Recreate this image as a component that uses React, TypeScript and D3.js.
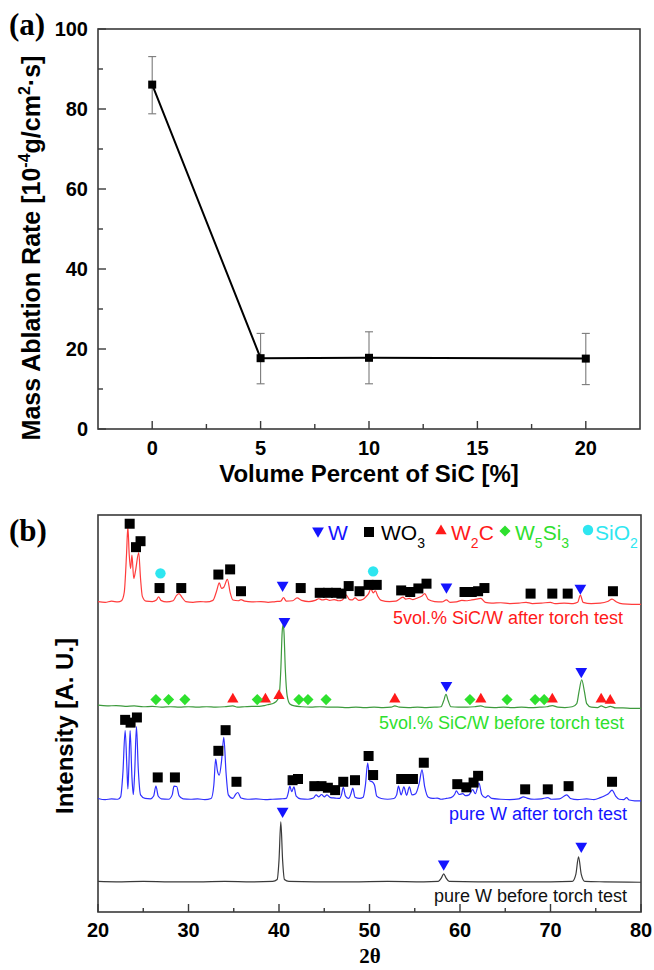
import React from "react";
import * as d3 from "d3";

// ---- panel (a): ablation rate vs SiC content ----
const sicPercent = [0, 5, 10, 20];
const ablationRate = [86.1, 17.7, 17.8, 17.6];
const rateLow = [78.8, 11.3, 11.3, 11.1];
const rateHigh = [93.1, 23.9, 24.3, 23.9];
const rateTicksX = [0, 5, 10, 15, 20];
const rateMinorX = [2.5, 7.5, 12.5, 17.5];
const rateTicksY = [0, 20, 40, 60, 80, 100];
const rateMinorY = [10, 30, 50, 70, 90];

// ---- panel (b): XRD patterns (2theta, intensity in A.U.) ----
const sicAfter: [number, number][] = [
  [20, 78.2], [20.8, 78.0], [21.5, 78.3], [22.2, 78.1], [22.6, 78.4], [22.9, 80.5], [23.15, 90], [23.3, 97.0],
  [23.45, 90], [23.6, 86.5], [23.75, 89.9], [23.95, 84], [24.15, 86], [24.5, 90.5], [24.7, 84], [24.9, 79.5],
  [25.3, 78.3], [26.0, 78.2], [26.45, 78.6], [26.7, 79.4], [26.95, 78.5], [27.6, 78.1], [28.3, 78.4], [28.7, 79.8],
  [28.95, 80.2], [29.3, 79.2], [29.7, 78.2], [30.5, 78.0], [31.3, 78.2], [32.0, 78.1], [32.7, 78.5], [33.1, 80.8],
  [33.4, 82.9], [33.65, 81.5], [33.9, 81.8], [34.3, 83.8], [34.6, 80.5], [34.9, 78.6], [35.5, 78.4], [35.8, 78.7],
  [36.2, 78.3], [37, 78.1], [38, 78.2], [38.8, 78.0], [39.6, 78.2], [40.2, 78.3], [40.5, 79.2], [40.8, 78.3],
  [41.5, 78.4], [42.0, 79.1], [42.5, 78.5], [43.3, 78.2], [44.0, 78.5], [44.4, 78.9], [44.8, 78.6], [45.2, 78.8],
  [45.6, 78.5], [46.1, 78.7], [46.6, 78.4], [47.0, 78.6], [47.4, 79.9], [47.8, 78.7], [48.1, 78.6], [48.4, 79.1],
  [48.8, 78.5], [49.3, 78.8], [49.6, 79.4], [49.9, 80.2], [50.15, 81.4], [50.4, 80.4], [50.65, 80.9], [50.9, 79.6],
  [51.3, 78.5], [52.2, 78.2], [52.9, 78.3], [53.3, 78.8], [53.7, 79.3], [54.0, 78.8], [54.4, 79.0], [54.8, 78.7],
  [55.3, 79.1], [55.8, 79.6], [56.1, 80.2], [56.5, 78.7], [57.2, 78.2], [58.0, 78.1], [58.5, 78.6], [58.9, 78.0],
  [59.6, 78.1], [60.2, 78.5], [60.8, 78.4], [61.3, 78.6], [61.8, 78.8], [62.3, 79.0], [62.8, 78.0], [63.5, 77.8],
  [64.5, 77.9], [65.5, 77.7], [66.5, 77.8], [67.3, 78.0], [68.0, 77.7], [69.0, 77.8], [70.0, 78.0], [70.5, 77.7],
  [71.5, 77.8], [72.5, 77.7], [73.0, 78.0], [73.3, 79.8], [73.6, 78.0], [74.5, 77.7], [75.5, 77.8], [76.3, 78.2],
  [76.8, 78.8], [77.3, 78.1], [78.0, 77.6], [79.0, 77.5], [80, 77.5],
];
const sicBefore: [number, number][] = [
  [20, 52.1], [21, 51.9], [22, 52.0], [23, 51.8], [24, 51.9], [25, 51.7], [26, 51.8], [27, 51.6], [28, 51.7],
  [29, 51.6], [30, 51.7], [31, 51.6], [32, 51.7], [33, 51.6], [34, 51.7], [34.9, 51.9], [35.4, 51.6], [36.2, 51.7],
  [37, 51.8], [37.8, 51.8], [38.4, 52.0], [38.9, 52.3], [39.4, 52.6], [39.75, 53.2], [40.0, 54.3], [40.2, 61],
  [40.35, 70.5], [40.45, 72.3], [40.55, 70.5], [40.7, 61], [40.9, 54.5], [41.2, 52.4], [41.7, 51.9], [42.5, 51.7],
  [43.5, 51.6], [44.5, 51.7], [45.5, 51.6], [46.5, 51.6], [47.5, 51.5], [48.5, 51.6], [49.5, 51.5], [50.5, 51.6],
  [51.5, 51.5], [52.4, 51.6], [52.8, 51.9], [53.3, 51.6], [54.3, 51.5], [55.3, 51.6], [56.3, 51.5], [57.3, 51.6],
  [57.9, 51.7], [58.2, 53.2], [58.45, 54.8], [58.7, 53.2], [59.0, 51.7], [59.8, 51.6], [60.8, 51.6], [61.6, 51.7],
  [62.3, 51.9], [62.8, 51.6], [63.8, 51.5], [64.8, 51.6], [65.8, 51.5], [66.8, 51.6], [67.8, 51.5], [68.8, 51.6],
  [69.6, 51.7], [70.2, 52.0], [70.8, 51.6], [71.6, 51.5], [72.4, 51.7], [72.9, 52.5], [73.15, 55.5], [73.45, 58.5],
  [73.75, 55.5], [74.0, 52.5], [74.5, 51.6], [75.2, 51.5], [75.6, 51.9], [76.1, 51.5], [76.6, 51.8], [77.2, 51.4],
  [78, 51.4], [79, 51.3], [80, 51.3],
];
const pureAfter: [number, number][] = [
  [20, 28.6], [20.8, 28.3], [21.5, 28.5], [22.2, 28.4], [22.5, 29.0], [22.75, 35], [23.0, 45.7], [23.2, 36],
  [23.3, 31.0], [23.4, 36], [23.55, 45.7], [23.75, 34], [23.9, 29.6], [24.05, 35], [24.25, 46.7], [24.45, 36],
  [24.7, 29.5], [25.2, 28.6], [25.8, 28.5], [26.15, 29.2], [26.4, 31.7], [26.65, 29.2], [27.0, 28.5], [27.8, 28.4],
  [28.2, 29.5], [28.4, 31.7], [28.7, 31.6], [28.95, 29.3], [29.4, 28.5], [30.2, 28.4], [31.0, 28.5], [31.8, 28.3],
  [32.5, 28.6], [32.8, 32.0], [33.0, 38.5], [33.2, 35.5], [33.4, 34.5], [33.65, 38], [33.9, 44.0], [34.15, 35],
  [34.4, 29.5], [34.9, 28.6], [35.2, 29.6], [35.45, 30.1], [35.8, 28.7], [36.5, 28.4], [37.5, 28.5], [38.5, 28.3],
  [39.3, 28.4], [40.2, 28.5], [40.8, 28.6], [41.0, 29.8], [41.2, 31.7], [41.4, 30.3], [41.65, 31.5], [41.9, 29.2],
  [42.4, 28.5], [43.2, 28.4], [43.8, 28.7], [44.1, 29.5], [44.4, 29.0], [44.7, 29.6], [45.0, 29.0], [45.3, 29.5],
  [45.7, 28.8], [46.2, 28.7], [46.7, 28.6], [46.9, 29.5], [47.1, 31.4], [47.35, 29.2], [47.7, 28.6], [47.95, 29.8],
  [48.15, 31.2], [48.4, 28.9], [48.9, 28.6], [49.3, 28.9], [49.55, 32], [49.8, 37.5], [50.05, 33], [50.3, 32.8],
  [50.55, 32.0], [50.8, 29.2], [51.3, 28.6], [52.0, 28.4], [52.7, 28.6], [53.0, 29.5], [53.2, 31.7], [53.5, 29.5],
  [53.8, 31.5], [54.1, 29.4], [54.4, 31.5], [54.7, 29.5], [55.1, 29.8], [55.5, 32.5], [55.8, 35.8], [56.1, 31.5],
  [56.5, 28.9], [57.0, 28.6], [57.5, 28.7], [57.9, 28.4], [58.5, 28.6], [59.0, 28.8], [59.4, 29.6], [59.6, 30.5],
  [59.9, 29.6], [60.3, 29.8], [60.6, 29.3], [61.0, 29.5], [61.4, 30.8], [61.7, 29.8], [62.1, 32.5], [62.4, 29.6],
  [62.8, 28.8], [63.1, 29.3], [63.5, 28.6], [64.5, 28.4], [65.5, 28.3], [66.5, 28.5], [67.0, 29.0], [67.4, 28.7],
  [68.2, 28.4], [69.0, 28.5], [69.7, 28.8], [70.1, 28.4], [71.0, 28.5], [71.8, 29.5], [72.2, 28.6], [73.0, 28.3],
  [74.0, 28.5], [74.8, 28.3], [75.5, 28.8], [76.0, 29.3], [76.4, 29.8], [76.8, 30.7], [77.2, 29.2], [77.6, 28.4],
  [78.1, 28.3], [78.4, 28.8], [78.7, 28.2], [79.3, 28.0], [80, 28.0],
];
const pureBefore: [number, number][] = [
  [20, 7.7], [22, 7.6], [25, 7.7], [28, 7.6], [31, 7.6], [34, 7.7], [37, 7.6], [39.3, 7.7], [39.8, 8.2], [40.0, 13],
  [40.2, 22.7], [40.4, 13], [40.6, 8.2], [41.1, 7.7], [44, 7.6], [48, 7.6], [52, 7.7], [56, 7.6], [57.6, 7.7],
  [57.95, 8.6], [58.2, 9.6], [58.45, 8.6], [58.8, 7.7], [62, 7.6], [66, 7.6], [70, 7.6], [72.4, 7.7], [72.8, 9.5],
  [73.1, 13.9], [73.4, 9.5], [73.8, 7.7], [76, 7.6], [80, 7.5],
];

// phase markers (2theta, marker height)
const wMarks: [number, number][] = [
  [40.4, 82.3], [58.5, 81.9], [73.3, 81.6],
  [40.6, 73.2], [58.5, 57.1], [73.4, 60.6],
  [40.4, 25.4], [58.2, 12.1], [73.4, 16.6],
];
const wo3Marks: [number, number][] = [
  [23.5, 97.8], [24.2, 91.9], [24.7, 93.4], [26.8, 81.6], [29.2, 81.6], [33.3, 85.0], [34.6, 86.3], [35.8, 80.8],
  [42.4, 81.6], [44.5, 80.4], [45.4, 80.4], [46.3, 80.4], [46.9, 80.2], [47.7, 82.1], [48.9, 80.8], [49.9, 82.4],
  [50.8, 82.4], [53.5, 81.0], [54.5, 80.6], [55.4, 81.5], [56.3, 82.7], [60.5, 80.6], [61.3, 80.6], [62.0, 80.8],
  [62.7, 81.6], [67.8, 80.2], [70.2, 80.2], [71.9, 80.2], [76.9, 80.8],
  [23.0, 48.4], [23.6, 47.7], [24.3, 49.0], [26.6, 33.9], [28.5, 33.9], [33.3, 40.6], [34.1, 45.8], [35.3, 32.8],
  [41.5, 33.2], [42.1, 33.5], [43.9, 31.7], [44.7, 31.7], [45.4, 31.3], [46.2, 30.7], [47.1, 32.8], [48.4, 33.2],
  [49.9, 39.3], [50.4, 34.5], [53.5, 33.5], [54.1, 33.5], [54.8, 33.5], [56.0, 37.6], [59.7, 32.2], [60.7, 31.4],
  [61.5, 32.6], [62.0, 34.3], [67.2, 30.9], [69.7, 30.9], [72.0, 31.7], [76.8, 32.8],
];
const w2cMarks: [number, number][] = [
  [34.9, 53.6], [38.5, 53.6], [40.0, 54.5], [52.8, 53.6], [62.3, 53.6], [70.2, 53.6], [75.6, 53.6], [76.6, 53.3],
];
const w5si3Marks: [number, number][] = [
  [26.4, 53.5], [27.8, 53.5], [29.6, 53.5], [37.6, 53.5], [42.2, 53.5], [43.2, 53.5], [45.2, 53.5], [61.1, 53.5],
  [65.2, 53.5], [68.3, 53.5], [69.3, 53.5],
];
const sio2Marks: [number, number][] = [[26.9, 85.3], [50.4, 85.8]];
const xrdTicks = [20, 30, 40, 50, 60, 70, 80];
const xrdMinor = [25, 35, 45, 55, 65, 75];

const SANS = "Arial, 'Liberation Sans', Helvetica, sans-serif";
const SERIF = "'Times New Roman', 'Liberation Serif', serif";
const C_BLUE = "#1414ff";
const C_RED = "#ff1a1a";
const C_GREEN = "#2ee02e";
const C_CYAN = "#2ee6f0";

const triDown = d3.symbol(d3.symbolTriangle, 60)();
const triUp = d3.symbol(d3.symbolTriangle, 55)();
const square = d3.symbol(d3.symbolSquare, 100)();
const diamond = d3.symbol(d3.symbolSquare, 62)();
const circle = d3.symbol(d3.symbolCircle, 85)();

export default function App() {
  // panel (a)
  const xA = d3.scaleLinear().domain([-2.5, 22.5]).range([98, 640]);
  const yA = d3.scaleLinear().domain([0, 100]).range([429, 29]);
  const rateLine = d3
    .line<number>()
    .x((_, i) => xA(sicPercent[i]))
    .y((d) => yA(d));

  // panel (b)
  const xB = d3.scaleLinear().domain([20, 80]).range([98, 641]);
  const yB = d3.scaleLinear().domain([0, 100]).range([912, 515]);
  const xrdLine = d3
    .line<[number, number]>()
    .x((d) => xB(d[0]))
    .y((d) => yB(d[1]))
    .curve(d3.curveMonotoneX);

  const marks = (data: [number, number][], path: string, fill: string, rot = 0) =>
    data.map((d, i) => (
      <path
        key={i}
        d={path}
        fill={fill}
        transform={`translate(${xB(d[0])},${yB(d[1])}) rotate(${rot})`}
      />
    ));

  return (
    <svg
      width={654}
      height={970}
      style={{ display: "block", position: "absolute", left: 0, top: 0, background: "#fff" }}
    >
      {/* ===== (a) ===== */}
      <text x={9} y={35} fontFamily={SERIF} fontWeight="bold" fontSize={31}>
        (a)
      </text>
      <rect x={98} y={29} width={542} height={400} fill="none" stroke="#3a3a3a" strokeWidth={1.6} />
      {rateTicksY.map((t) => (
        <g key={t}>
          <line x1={98} x2={106} y1={yA(t)} y2={yA(t)} stroke="#3a3a3a" strokeWidth={1.4} />
          <text x={88} y={yA(t) + 7} textAnchor="end" fontFamily={SANS} fontWeight="bold" fontSize={20}>
            {t}
          </text>
        </g>
      ))}
      {rateMinorY.map((t) => (
        <line key={t} x1={98} x2={103} y1={yA(t)} y2={yA(t)} stroke="#3a3a3a" strokeWidth={1.4} />
      ))}
      {rateTicksX.map((t) => (
        <g key={t}>
          <line x1={xA(t)} x2={xA(t)} y1={429} y2={421} stroke="#3a3a3a" strokeWidth={1.4} />
          <text x={xA(t)} y={455} textAnchor="middle" fontFamily={SANS} fontWeight="bold" fontSize={20}>
            {t}
          </text>
        </g>
      ))}
      {rateMinorX.map((t) => (
        <line key={t} x1={xA(t)} x2={xA(t)} y1={429} y2={424} stroke="#3a3a3a" strokeWidth={1.4} />
      ))}
      <text x={369} y={482} textAnchor="middle" fontFamily={SANS} fontWeight="bold" fontSize={24}>
        Volume Percent of SiC [%]
      </text>
      <text
        transform="translate(40,248) rotate(-90)"
        textAnchor="middle"
        fontFamily={SANS}
        fontWeight="bold"
        fontSize={25}
      >
        Mass Ablation Rate [10
        <tspan dy={-10} fontSize={16}>-4</tspan>
        <tspan dy={10}>g/cm</tspan>
        <tspan dy={-10} fontSize={16}>2</tspan>
        <tspan dy={10}>·s]</tspan>
      </text>
      {sicPercent.map((v, i) => (
        <g key={v} stroke="#7a7a7a" strokeWidth={1.1}>
          <line x1={xA(v)} x2={xA(v)} y1={yA(rateLow[i])} y2={yA(rateHigh[i])} />
          <line x1={xA(v) - 4} x2={xA(v) + 4} y1={yA(rateLow[i])} y2={yA(rateLow[i])} />
          <line x1={xA(v) - 4} x2={xA(v) + 4} y1={yA(rateHigh[i])} y2={yA(rateHigh[i])} />
        </g>
      ))}
      <path d={rateLine(ablationRate) || ""} fill="none" stroke="#000" strokeWidth={2} />
      {sicPercent.map((v, i) => (
        <rect key={v} x={xA(v) - 4} y={yA(ablationRate[i]) - 4} width={8} height={8} fill="#000" />
      ))}

      {/* ===== (b) ===== */}
      <text x={9} y={541} fontFamily={SERIF} fontWeight="bold" fontSize={31}>
        (b)
      </text>
      <rect x={98} y={515} width={543} height={397} fill="none" stroke="#3a3a3a" strokeWidth={1.6} />
      {xrdTicks.map((t) => (
        <g key={t}>
          <line x1={xB(t)} x2={xB(t)} y1={912} y2={904} stroke="#3a3a3a" strokeWidth={1.4} />
          <text x={xB(t)} y={937} textAnchor="middle" fontFamily={SANS} fontWeight="bold" fontSize={20}>
            {t}
          </text>
        </g>
      ))}
      {xrdMinor.map((t) => (
        <line key={t} x1={xB(t)} x2={xB(t)} y1={912} y2={908} stroke="#3a3a3a" strokeWidth={1.4} />
      ))}
      <text x={370} y={963} textAnchor="middle" fontFamily={SERIF} fontWeight="bold" fontSize={21}>
        2θ
      </text>
      <text
        transform="translate(73,726) rotate(-90)"
        textAnchor="middle"
        fontFamily={SANS}
        fontWeight="bold"
        fontSize={24}
      >
        Intensity [A. U.]
      </text>

      <path d={xrdLine(sicAfter) || ""} fill="none" stroke="#ff3c3c" strokeWidth={1.2} />
      <path d={xrdLine(sicBefore) || ""} fill="none" stroke="#3d9a3d" strokeWidth={1.2} />
      <path d={xrdLine(pureAfter) || ""} fill="none" stroke="#3030ff" strokeWidth={1.2} />
      <path d={xrdLine(pureBefore) || ""} fill="none" stroke="#3a3a3a" strokeWidth={1.2} />

      {marks(wo3Marks, square, "#000")}
      {marks(wMarks, triDown, C_BLUE, 180)}
      {marks(w2cMarks, triUp, C_RED)}
      {marks(w5si3Marks, diamond, C_GREEN, 45)}
      {marks(sio2Marks, circle, C_CYAN)}

      <g fontFamily={SANS} fontSize={18}>
        <text x={623} y={624} textAnchor="end" fill={C_RED}>5vol.% SiC/W after torch test</text>
        <text x={624} y={729} textAnchor="end" fill={C_GREEN}>5vol.% SiC/W before torch test</text>
        <text x={627} y={820} textAnchor="end" fill={C_BLUE}>pure W after torch test</text>
        <text x={627} y={902} textAnchor="end" fill="#111">pure W before torch test</text>
      </g>

      {/* legend */}
      <g fontFamily={SANS} fontSize={21}>
        <path d={triDown} fill={C_BLUE} transform="translate(318,531) rotate(180)" />
        <text x={328} y={540} fill={C_BLUE}>W</text>
        <path d={square} fill="#000" transform="translate(369,532)" />
        <text x={381} y={540} fill="#000">
          WO<tspan fontSize={14} dy={8}>3</tspan>
        </text>
        <path d={triUp} fill={C_RED} transform="translate(441,531)" />
        <text x={451} y={540} fill={C_RED}>
          W<tspan fontSize={14} dy={8}>2</tspan>
          <tspan dy={-8}>C</tspan>
        </text>
        <path d={diamond} fill={C_GREEN} transform="translate(505,531) rotate(45)" />
        <text x={515} y={540} fill={C_GREEN}>
          W<tspan fontSize={14} dy={8}>5</tspan>
          <tspan dy={-8}>Si</tspan>
          <tspan fontSize={14} dy={8}>3</tspan>
        </text>
        <path d={circle} fill={C_CYAN} transform="translate(588,530)" />
        <text x={595} y={540} fill={C_CYAN}>
          SiO<tspan fontSize={14} dy={8}>2</tspan>
        </text>
      </g>
    </svg>
  );
}
